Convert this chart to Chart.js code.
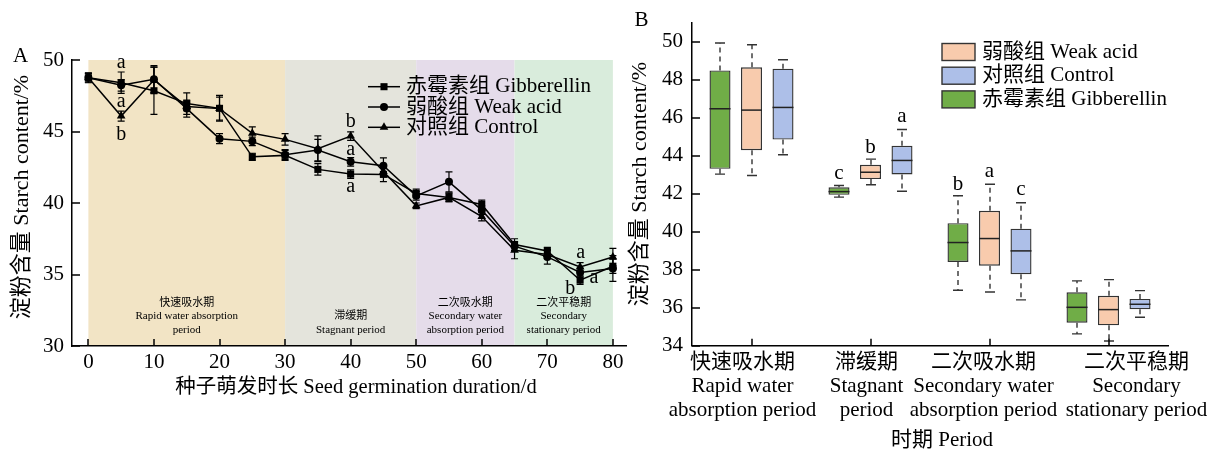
<!DOCTYPE html>
<html><head><meta charset="utf-8">
<script src="https://cdn.jsdelivr.net/npm/chart.js@4.4.1/dist/chart.umd.min.js"></script>
<style>
html,body{margin:0;padding:0;background:#fff;}
#wrap{position:relative;width:1219px;height:451px;overflow:hidden;background:#fff;}
canvas{position:absolute;top:0;}
#ca{left:0;}
#cb{left:620px;}
</style></head><body>
<div id="wrap"><canvas id="ca" width="640" height="451"></canvas><canvas id="cb" width="599" height="451"></canvas></div>
<script>
const FONT = "'Liberation Serif','Noto Sans CJK SC',serif";

// ---------- Panel A data ----------
const days = [0,5,10,15,20,25,30,35,40,45,50,55,60,65,70,75,80];
const gibberellin = [48.76,48.41,47.85,46.95,46.62,43.23,43.33,42.35,42.02,42.0,40.67,40.39,39.9,37.1,36.65,34.6,35.58];
const weakAcid    = [48.76,48.23,48.65,46.6,44.5,44.31,43.38,43.7,42.88,42.6,40.5,41.48,39.5,36.98,36.23,35.14,35.42];
const control     = [48.76,46.08,48.6,46.75,46.6,44.87,44.45,43.8,44.68,42.2,39.8,40.39,39.05,36.7,36.4,35.53,36.23];
const gibErr  = [0.3,0.75,1.65,0.75,0.9,0.25,0.35,0.4,0.3,0.5,0.3,0.3,0.3,0.4,0.25,0.3,0.5];
const weakErr = [0.3,0.4,0.95,0.6,0.35,0.3,0.35,0.75,0.3,0.55,0.3,0.7,0.3,0.3,0.5,0.3,0.9];
const ctrlErr = [0.35,0.35,0.9,0.3,0.8,0.45,0.4,0.9,0.3,0.3,0.2,0.3,0.3,0.6,0.3,0.3,0.6];
const xTicksA = [0,10,20,30,40,50,60,70,80];
const yTicksA = [30,35,40,45,50];
const periodStart = [0,30,50,65];
const periodEnd   = [30,50,65,80];
const periodColors = ['#f2e4c5','#e4e4dc','#e5dcea','#d9ecdc'];
const periodLabelsA = [['快速吸水期','Rapid water absorption','period'],['滞缓期','Stagnant period'],['二次吸水期','Secondary water','absorption period'],['二次平稳期','Secondary','stationary period']];
const sigAx = [5,5,5,40,40,40,75.1,73.5,77.1];
const sigAy = [49.73,47.02,44.89,45.78,43.7,41.1,36.48,34.1,34.72];
const sigAt = ['a','a','b','b','a','a','a','b','a'];

// ---------- Panel B data ----------
const periodsB = [['快速吸水期','Rapid water','absorption period'],['滞缓期','Stagnant','period'],['二次吸水期','Secondary water','absorption period'],['二次平稳期','Secondary','stationary period']];
const labelShiftB = [-9,-4,-6,28];
const gibMin = [43.03,41.82,36.92,34.62];
const gibQ1  = [43.31,41.94,38.41,35.21];
const gibMed = [46.47,42.11,39.43,36.02];
const gibQ3  = [48.49,42.34,40.45,36.81];
const gibMax = [49.93,42.43,41.89,37.41];
const weakMin = [42.96,42.47,36.83,34.25];
const weakQ1  = [44.29,42.77,38.21,35.07];
const weakMed = [46.4,43.13,39.64,35.9];
const weakQ3  = [48.65,43.52,41.1,36.63];
const weakMax = [49.84,43.82,42.5,37.48];
const ctrlMin = [44.05,42.13,36.41,35.5];
const ctrlQ1  = [44.85,43.01,37.76,35.92];
const ctrlMed = [46.54,43.75,38.99,36.18];
const ctrlQ3  = [48.58,44.52,40.16,36.46];
const ctrlMax = [49.05,45.38,41.52,36.9];
const yTicksB = [34,36,38,40,42,44,46,48,50];
const sigBds  = [0,1,2,0,1,2];
const sigBcat = [1,1,1,2,2,2];
const sigBy   = [43.05,44.54,46.03,42.59,43.13,42.17];
const sigBt   = ['c','b','a','b','a','c'];

Chart.defaults.font.family = FONT;
Chart.defaults.color = '#000';
Chart.defaults.animation = false;

function tx(ctx, text, x, y, size, align, base){
  ctx.font = size + 'px ' + FONT;
  ctx.textAlign = align || 'center';
  ctx.textBaseline = base || 'middle';
  ctx.fillText(text, x, y);
}
function letter(ctx, t, x, yCenter, size){
  const off = (t === 'b') ? 0.34*size : 0.23*size;
  tx(ctx, t, x, yCenter + off, size, 'center', 'alphabetic');
}
function drawMarker(ctx, style, x, y, r){
  ctx.beginPath();
  if (style === 'rect'){ const s = Math.SQRT1_2*r; ctx.rect(x-s, y-s, 2*s, 2*s); }
  else if (style === 'circle'){ ctx.arc(x, y, r, 0, Math.PI*2); }
  else { ctx.moveTo(x, y-r); ctx.lineTo(x+0.866*r, y+0.5*r); ctx.lineTo(x-0.866*r, y+0.5*r); ctx.closePath(); }
  ctx.fill();
}
const inwardTicks = {
  id:'inwardTicks',
  afterDraw(chart){
    const {ctx, chartArea:a, scales:{x, y}} = chart;
    ctx.save(); ctx.strokeStyle = '#000'; ctx.lineWidth = 1.5; ctx.beginPath();
    x.ticks.forEach((t,i)=>{ const p = Math.round(x.getPixelForTick(i)); ctx.moveTo(p, a.bottom); ctx.lineTo(p, a.bottom-7); });
    y.ticks.forEach((t,i)=>{ const p = Math.round(y.getPixelForTick(i)); ctx.moveTo(a.left, p); ctx.lineTo(a.left+8, p); });
    ctx.stroke(); ctx.restore();
  }
};
const axisBase = (extra) => Object.assign({
  grid:{display:false, drawTicks:false, drawOnChartArea:false},
  border:{display:true, color:'#000', width:1.5, z:1}
}, extra);

// ---------- Panel A ----------
const styleA = ['rect','circle','triangle'];
const radA = [5,4,5];
const bandsPlugin = {
  id:'bandsA',
  beforeDatasetsDraw(chart){
    const {ctx, chartArea:a, scales:{x, y}} = chart;
    ctx.save();
    periodStart.forEach((s,i)=>{
      const x0 = x.getPixelForValue(s), x1 = x.getPixelForValue(periodEnd[i]);
      ctx.fillStyle = periodColors[i];
      ctx.fillRect(x0, a.top, x1-x0, a.bottom-a.top);
      ctx.fillStyle = '#000';
      const lines = periodLabelsA[i], cx = (x0+x1)/2;
      lines.forEach((t,k)=>{ tx(ctx, t, cx, a.bottom - 16 - (lines.length-1-k)*13.5, 11); });
    });
    ctx.strokeStyle = '#000'; ctx.lineWidth = 1.2;
    chart.data.datasets.forEach(ds=>{
      ds.err.forEach((e,j)=>{
        const px = x.getPixelForValue(days[j]);
        const v = ds.data[j].y;
        const pt = y.getPixelForValue(v+e), pb = y.getPixelForValue(v-e);
        ctx.beginPath();
        ctx.moveTo(px, pt); ctx.lineTo(px, pb);
        ctx.moveTo(px-3.5, pt); ctx.lineTo(px+3.5, pt);
        ctx.moveTo(px-3.5, pb); ctx.lineTo(px+3.5, pb);
        ctx.stroke();
      });
    });
    ctx.restore();
  },
  afterDraw(chart){
    const {ctx, scales:{x, y}} = chart;
    ctx.save(); ctx.fillStyle = '#000';
    tx(ctx, 'A', 20.5, 56, 21);
    ctx.save(); ctx.translate(22, 197); ctx.rotate(-Math.PI/2);
    tx(ctx, '淀粉含量 Starch content/%', 0, 0, 22); ctx.restore();
    tx(ctx, '种子萌发时长 Seed germination duration/d', 356, 388, 20.5);
    sigAt.forEach((t,i)=>{ letter(ctx, t, x.getPixelForValue(sigAx[i]), y.getPixelForValue(sigAy[i]), 20); });
    chart.data.datasets.forEach((ds,i)=>{
      const ly = 86.7 + i*20.3;
      ctx.strokeStyle = '#000'; ctx.lineWidth = 1.5;
      ctx.beginPath(); ctx.moveTo(368, ly); ctx.lineTo(400, ly); ctx.stroke();
      ctx.fillStyle = '#000'; drawMarker(ctx, styleA[i], 384, ly, radA[i]);
      tx(ctx, ds.label, 406, ly, 21, 'left', 'middle');
    });
    ctx.restore();
  }
};
const seriesA = [['赤霉素组 Gibberellin', gibberellin, gibErr], ['弱酸组 Weak acid', weakAcid, weakErr], ['对照组 Control', control, ctrlErr]];
new Chart(document.getElementById('ca'), {
  type:'line',
  data:{ datasets: seriesA.map((s,i)=>({
    label:s[0], data: days.map((d,j)=>({x:d, y:s[1][j]})), err:s[2],
    borderColor:'#000', backgroundColor:'#000', borderWidth:1.5, tension:0,
    pointStyle:styleA[i], pointRadius:radA[i], pointBorderWidth:0, pointBackgroundColor:'#000'
  }))},
  options:{
    responsive:false, devicePixelRatio:1, animation:false,
    layout:{padding:{top:60, right:14, left:0, bottom:0}},
    plugins:{legend:{display:false}, tooltip:{enabled:false}},
    scales:{
      x: axisBase({type:'linear', min:-2.5, max:82,
        ticks:{font:{size:21}, padding:4, maxRotation:0, autoSkip:false},
        afterBuildTicks(s){ s.ticks = xTicksA.map(v=>({value:v})); },
        afterFit(s){ s.height = 105; }}),
      y: axisBase({type:'linear', min:30, max:50,
        ticks:{font:{size:21}, padding:8},
        afterBuildTicks(s){ s.ticks = yTicksA.map(v=>({value:v})); },
        afterFit(s){ s.width = 72; }})
    }
  },
  plugins:[bandsPlugin, inwardTicks]
});

// ---------- Panel B ----------
const colorsB = ['#70AD47','#F8CBAD','#ADBFE8'];
const boxPlugin = {
  id:'boxB',
  beforeDatasetsDraw(chart){
    const {ctx, scales:{y}} = chart;
    ctx.save(); ctx.strokeStyle = '#333'; ctx.lineWidth = 1.4;
    chart.data.datasets.forEach((ds,i)=>{
      chart.getDatasetMeta(i).data.forEach((bar,j)=>{
        const cx = Math.round(bar.x);
        const pMax = y.getPixelForValue(ds.stats.max[j]), pMin = y.getPixelForValue(ds.stats.min[j]);
        const pQ3 = y.getPixelForValue(ds.data[j][1]), pQ1 = y.getPixelForValue(ds.data[j][0]);
        ctx.setLineDash([5,4]); ctx.beginPath();
        ctx.moveTo(cx, pQ3); ctx.lineTo(cx, pMax);
        ctx.moveTo(cx, pQ1); ctx.lineTo(cx, pMin); ctx.stroke();
        ctx.setLineDash([]); ctx.beginPath();
        ctx.moveTo(cx-5, pMax); ctx.lineTo(cx+5, pMax);
        ctx.moveTo(cx-5, pMin); ctx.lineTo(cx+5, pMin); ctx.stroke();
      });
    });
    ctx.restore();
  },
  afterDatasetsDraw(chart){
    const {ctx, scales:{y}} = chart;
    ctx.save(); ctx.strokeStyle = '#222'; ctx.lineWidth = 1.5;
    chart.data.datasets.forEach((ds,i)=>{
      chart.getDatasetMeta(i).data.forEach((bar,j)=>{
        const pm = y.getPixelForValue(ds.stats.med[j]);
        ctx.beginPath(); ctx.moveTo(bar.x - bar.width/2, pm); ctx.lineTo(bar.x + bar.width/2, pm); ctx.stroke();
      });
    });
    ctx.restore();
  },
  afterDraw(chart){
    const {ctx, chartArea:a, scales:{x, y}} = chart;
    ctx.save(); ctx.fillStyle = '#000';
    tx(ctx, 'B', 21.5, 20, 21);
    ctx.save(); ctx.translate(20, 184); ctx.rotate(-Math.PI/2);
    tx(ctx, '淀粉含量 Starch content/%', 0, 0, 22); ctx.restore();
    tx(ctx, '时期 Period', 322, 440, 21);
    // category labels
    periodsB.forEach((lines,i)=>{
      const cx = x.getPixelForTick(i) + labelShiftB[i];
      lines.forEach((t,k)=>{ tx(ctx, t, cx, a.bottom + 16.3 + k*24.3, 21); });
    });
    sigBt.forEach((t,k)=>{
      const bar = chart.getDatasetMeta(sigBds[k]).data[sigBcat[k]];
      letter(ctx, t, bar.x, y.getPixelForValue(sigBy[k]), 21);
    });
    [1,2,0].forEach((di,r)=>{
      const ds = chart.data.datasets[di];
      const ly = 52 + r*23.7;
      ctx.fillStyle = ds.backgroundColor; ctx.fillRect(322, ly-8.5, 33, 17);
      ctx.strokeStyle = '#333'; ctx.lineWidth = 1.4; ctx.strokeRect(322, ly-8.5, 33, 17);
      ctx.fillStyle = '#000'; tx(ctx, ds.label, 362, ly, 21, 'left', 'middle');
    });
    ctx.restore();
  }
};
const seriesB = [
  ['赤霉素组 Gibberellin', gibQ1, gibQ3, gibMin, gibMed, gibMax],
  ['弱酸组 Weak acid', weakQ1, weakQ3, weakMin, weakMed, weakMax],
  ['对照组 Control', ctrlQ1, ctrlQ3, ctrlMin, ctrlMed, ctrlMax]
];
new Chart(document.getElementById('cb'), {
  type:'bar',
  data:{ labels: periodsB, datasets: seriesB.map((s,i)=>({
    label:s[0], data: s[1].map((q,j)=>[q, s[2][j]]),
    stats:{min:s[3], med:s[4], max:s[5]},
    backgroundColor: colorsB[i], borderColor:'#333', borderWidth:1.4, borderSkipped:false,
    categoryPercentage:0.794, barPercentage:0.667
  }))},
  options:{
    responsive:false, devicePixelRatio:1, animation:false,
    layout:{padding:{top:22.7, right:51, left:0, bottom:0}},
    plugins:{legend:{display:false}, tooltip:{enabled:false}},
    scales:{
      x: axisBase({ticks:{display:false}, afterFit(s){ s.height = 105.3; }}),
      y: axisBase({type:'linear', min:34, max:51,
        ticks:{font:{size:21}, padding:9},
        afterBuildTicks(s){ s.ticks = yTicksB.map(v=>({value:v})); },
        afterFit(s){ s.width = 72; }})
    }
  },
  plugins:[boxPlugin, inwardTicks]
});
</script>
</body></html>
